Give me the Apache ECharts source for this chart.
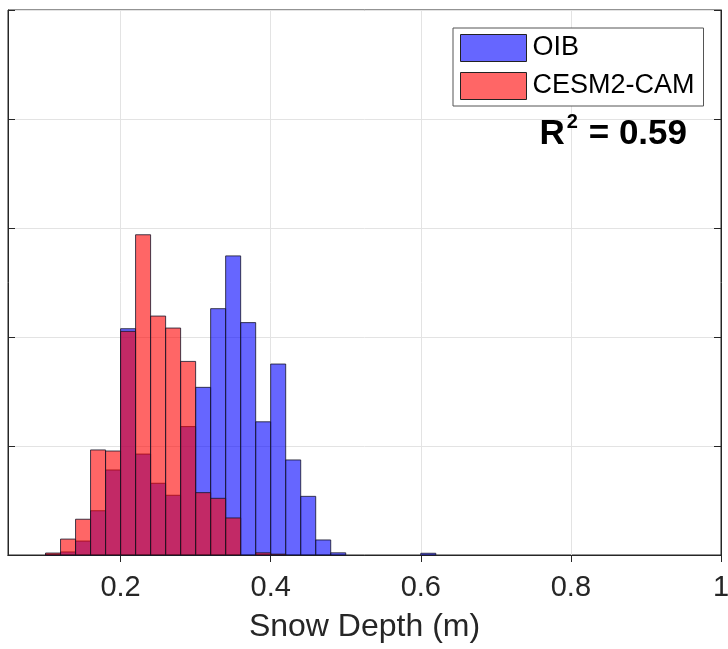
<!DOCTYPE html>
<html>
<head>
<meta charset="utf-8">
<script src="https://cdn.jsdelivr.net/npm/echarts@6/dist/echarts.min.js"></script>
<style>html,body{margin:0;padding:0;background:#fff}#c{width:728px;height:649px}</style>
</head>
<body>
<div id="c"></div>
<script>
// Bin left edges (m); each bin is binWidth wide
var binStarts = [0.10,0.12,0.14,0.16,0.18,0.20,0.22,0.24,0.26,0.28,0.30,0.32,0.34,0.36,0.38,0.40,0.42,0.44,0.46,0.48,0.50,0.52,0.54,0.56,0.58,0.60];
var binWidth = 0.02;
var oibCounts  = [0.4,1.4,6.4,20.3,39,103.8,46.3,32.9,27.4,58.9,76.9,113,137.2,106.6,61.1,87.6,43.6,26.9,6.9,1.0,0,0,0,0,0,0.8];
var cesmCounts = [0.9,7.3,16.4,48.2,47.7,102.6,146.9,109.6,104.1,88.8,28.6,26,17,0,1,0.4,0,0,0,0,0,0,0,0,0,0];
var xTicks = [0.2,0.4,0.6,0.8,1];
var seriesNames = ['OIB','CESM2-CAM'];
var xLabel = 'Snow Depth (m)';
var r2Text = '0.59';

function toData(counts){
  var out = [];
  for (var i=0;i<binStarts.length;i++){
    if (counts[i] > 0) out.push([binStarts[i], binStarts[i]+binWidth, counts[i]]);
  }
  return out;
}
function makeRender(fill){
  return function(params, api){
    var p0 = api.coord([api.value(0), 0]);
    var p1 = api.coord([api.value(1), api.value(2)]);
    return {
      type:'rect',
      shape:{x:p0[0], y:p1[1], width:p1[0]-p0[0], height:p0[1]-p1[1]},
      style:{fill:fill, stroke:'rgba(20,20,40,0.8)', lineWidth:1}
    };
  };
}
var blue = 'rgba(0,0,255,0.6)';
var red = 'rgba(255,0,0,0.6)';
var axisColor = '#262626';
var font = 'Liberation Sans, Arial, sans-serif';
var chart = echarts.init(document.getElementById('c'), null, {renderer:'canvas'});
chart.setOption({
  animation:false,
  backgroundColor:'#fff',
  grid:{left:8,right:7,top:10,bottom:94,show:true,borderColor:axisColor,borderWidth:1,backgroundColor:'transparent',
        containLabel:false, outerBoundsMode:'none'},
  legend:{
    orient:'vertical', left:453, top:28,
    data:seriesNames,
    icon:'rect', itemWidth:66, itemHeight:27, itemGap:10,
    padding:[6,9,6,7],
    borderColor:'#555', borderWidth:1, backgroundColor:'#fff',
    itemStyle:{borderColor:'#222',borderWidth:1},
    textStyle:{fontFamily:font,fontSize:27,color:'#000',padding:[0,0,0,1]}
  },
  xAxis:[{
    type:'value', min:0.05, max:1,
    axisLine:{show:true,lineStyle:{color:axisColor}},
    axisTick:{show:false},
    axisLabel:{show:true,customValues:xTicks,margin:18,fontSize:29,color:axisColor,fontFamily:font,
      hideOverlap:false, formatter:function(v){return String(v);}},
    splitLine:{show:false},
    name:xLabel, nameLocation:'middle', nameGap:56,
    nameTextStyle:{fontSize:32,color:axisColor,fontFamily:font}
  },{
    type:'value', min:0.05, max:1, position:'top',
    axisLine:{show:true,lineStyle:{color:axisColor}},
    axisTick:{show:true,inside:true,length:7,customValues:xTicks,lineStyle:{color:axisColor}},
    axisLabel:{show:false},
    splitLine:{show:true,lineStyle:{color:'#e3e3e3',width:1}}
  }],
  yAxis:[{
    type:'value', min:0, max:250, interval:50,
    axisLine:{show:true,lineStyle:{color:axisColor}},
    axisTick:{show:true,inside:true,length:7,lineStyle:{color:axisColor}},
    axisLabel:{show:false},
    splitLine:{show:true,lineStyle:{color:'#e3e3e3',width:1}}
  },{
    type:'value', min:0, max:250, interval:50, position:'right',
    axisLine:{show:true,lineStyle:{color:axisColor}},
    axisTick:{show:true,inside:true,length:7,lineStyle:{color:axisColor}},
    axisLabel:{show:false}, splitLine:{show:false}
  }],
  series:[{
    name:seriesNames[0], type:'custom', xAxisIndex:0, yAxisIndex:0,
    itemStyle:{color:blue},
    renderItem:makeRender(blue), data:toData(oibCounts), z:2
  },{
    name:seriesNames[1], type:'custom', xAxisIndex:0, yAxisIndex:0,
    itemStyle:{color:red},
    renderItem:makeRender(red), data:toData(cesmCounts), z:3
  }],
  graphic:[{
    type:'text', right:41, top:112, z:10,
    style:{
      text:'{r|R}{s|2}{r| = '+r2Text+'}',
      rich:{
        r:{fontSize:35,fontWeight:'bold',fill:'#000',fontFamily:font,verticalAlign:'bottom',lineHeight:40},
        s:{fontSize:20,fontWeight:'bold',fill:'#000',fontFamily:font,verticalAlign:'top',lineHeight:40,padding:[0,1,12,2]}
      }
    }
  }]
});
</script>
</body>
</html>
